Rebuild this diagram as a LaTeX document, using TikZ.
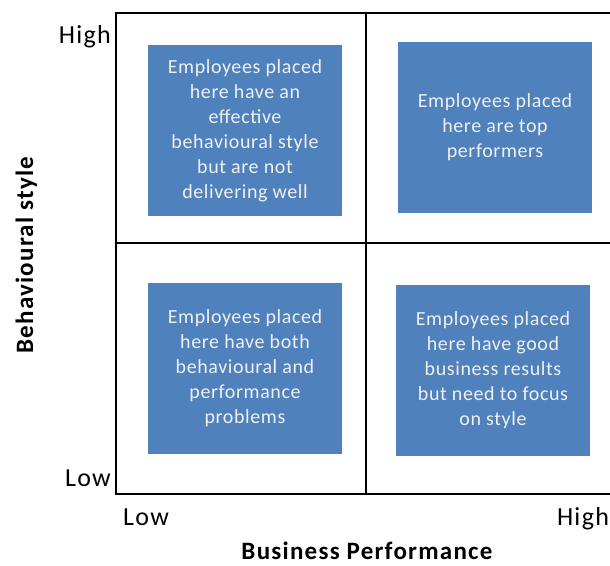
\documentclass[tikz,border=0pt]{standalone}
\usepackage{fontspec}
\setmainfont{Carlito}
\newfontfamily\boxfont[LetterSpace=3]{Carlito}
\newfontfamily\labelfont[LetterSpace=5]{Carlito}
\usetikzlibrary{positioning}
\definecolor{quadblue}{HTML}{4F81BD}
\tikzset{
  quadbox/.style={fill=quadblue, text=white!94!black, minimum width=194pt, minimum height=171pt, inner sep=0pt, align=center, font=\boxfont\fontsize{20}{25}\selectfont},
  gridline/.style={line width=2.6pt},
  ticklabel/.style={inner sep=1pt, font=\labelfont\fontsize{26}{30}\selectfont},
  axistitle/.style={inner sep=0pt, text depth=0pt, font=\labelfont\bfseries\fontsize{25}{30}\selectfont}
}

\begin{document}
\begin{tikzpicture}[x=1pt, y=-1pt]
  \useasboundingbox (0,0) rectangle (610,565);
  % the 2x2 grid
  \draw[gridline] (616,13) -- (116,13) -- (116,494) -- (616,494);
  \draw[gridline] (366,13) -- (366,494);
  \draw[gridline] (116,243) -- (616,243);
  % quadrants
  \node[quadbox] (hilo) at (245,130.5) {Employees placed\\here have an\\effective\\behavioural style\\but are not\\delivering well};
  \node[quadbox] (hihi) at (495,127) {Employees placed\\here are top\\performers};
  \node[quadbox] (lolo) at (245,368.5) {Employees placed\\here have both\\behavioural and\\performance\\problems};
  \node[quadbox] (lohi) at (493,370.5) {Employees placed\\here have good\\business results\\but need to focus\\on style};
  % axis ends
  \node[ticklabel, anchor=base east] (yhigh) at (112,43) {High};
  \node[ticklabel, anchor=base east] (ylow) at (112,486) {Low};
  \node[ticklabel, anchor=base] (xlow) at (146,525) {Low};
  \node[ticklabel, anchor=base] (xhigh) at (583,525) {High};
  % axis titles
  \node[axistitle, anchor=base] (xtitle) at (367,559) {Business Performance};
  \node[axistitle, rotate=90, anchor=base] (ytitle) at (33,255) {Behavioural style};
\end{tikzpicture}
\end{document}
